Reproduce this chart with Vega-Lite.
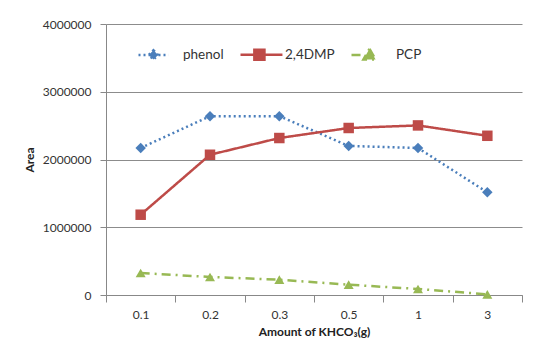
{
  "$schema": "https://vega.github.io/schema/vega-lite/v6.json",
  "width": 416,
  "height": 271,
  "autosize": {"type": "none"},
  "padding": {"left": 106, "top": 24, "right": 20, "bottom": 45},
  "background": "white",
  "config": {
    "font": "Lato",
    "view": {"stroke": null},
    "axis": {"labelFont": "Lato", "titleFont": "Lato", "labelColor": "#333333", "titleColor": "#222222", "domainColor": "#888888", "tickColor": "#888888", "gridColor": "#8c8c8c"}
  },
  "data": {
    "values": [
      {"amount": "0.1", "series": "phenol", "area": 2170000},
      {"amount": "0.2", "series": "phenol", "area": 2640000},
      {"amount": "0.3", "series": "phenol", "area": 2640000},
      {"amount": "0.5", "series": "phenol", "area": 2200000},
      {"amount": "1", "series": "phenol", "area": 2170000},
      {"amount": "3", "series": "phenol", "area": 1515000},
      {"amount": "0.1", "series": "2,4DMP", "area": 1185000},
      {"amount": "0.2", "series": "2,4DMP", "area": 2070000},
      {"amount": "0.3", "series": "2,4DMP", "area": 2317000},
      {"amount": "0.5", "series": "2,4DMP", "area": 2465000},
      {"amount": "1", "series": "2,4DMP", "area": 2503000},
      {"amount": "3", "series": "2,4DMP", "area": 2350000},
      {"amount": "0.1", "series": "PCP", "area": 325000},
      {"amount": "0.2", "series": "PCP", "area": 266000},
      {"amount": "0.3", "series": "PCP", "area": 226000},
      {"amount": "0.5", "series": "PCP", "area": 152000},
      {"amount": "1", "series": "PCP", "area": 89000},
      {"amount": "3", "series": "PCP", "area": 10000}
    ]
  },
  "encoding": {
    "x": {
      "field": "amount", "type": "ordinal", "sort": null,
      "scale": {"paddingInner": 0, "paddingOuter": 0},
      "axis": {"title": "Amount of KHCO₃(g)", "labelAngle": 0, "tickBand": "extent", "tickSize": 7, "labelPadding": 7, "labelFontSize": 12, "titleFontSize": 12, "titleFontWeight": "bold", "titlePadding": 6, "grid": false, "domainColor": "#888888"}
    },
    "y": {
      "field": "area", "type": "quantitative",
      "scale": {"domain": [0, 4000000], "nice": false},
      "axis": {"title": "Area", "values": [0, 1000000, 2000000, 3000000, 4000000], "format": "d", "tickSize": 6, "labelPadding": 9, "labelFontSize": 12, "titleFontSize": 12, "titleFontWeight": "bold", "titlePadding": 6, "grid": true}
    }
  },
  "layer": [
    {
      "mark": {"type": "line", "strokeWidth": 2.5},
      "encoding": {
        "strokeDash": {
          "field": "series", "type": "nominal",
          "scale": {"domain": ["phenol", "2,4DMP", "PCP"], "range": [[2, 3], [1, 0], [9, 5, 2, 5]]},
          "legend": null
        },
        "color": {
          "field": "series", "type": "nominal",
          "scale": {"domain": ["phenol", "2,4DMP", "PCP"], "range": ["#4A7EBB", "#BE4B48", "#98B954"]},
          "legend": {
            "title": null,
            "orient": "none",
            "legendX": 31,
            "legendY": 11,
            "direction": "horizontal",
            "symbolSize": 1296,
            "symbolStrokeWidth": 2.5,
            "labelFontSize": 13.5,
            "labelColor": "#333333",
            "labelOffset": 7,
            "columnPadding": 11,
            "encode": {
              "symbols": {
                "update": {
                  "shape": {"signal": "datum.value === 'phenol' ? 'M-1,0H0.67M-0.17,-0.26L0.09,0L-0.17,0.26L-0.43,0Z' : datum.value === '2,4DMP' ? 'M-1,0H1.33M-0.23,-0.28H0.33V0.28H-0.23Z' : 'M-1,0H-0.3M0,-0.34L0.34,0.26H-0.34Z'"},
                  "size": {"value": 1296},
                  "strokeWidth": {"value": 2.5},
                  "opacity": {"value": 1},
                  "strokeOpacity": {"value": 1},
                  "fillOpacity": {"value": 1},
                  "strokeDash": {"signal": "datum.value === 'phenol' ? [2,3] : [1,0]"},
                  "fill": {"signal": "datum.value === 'phenol' ? '#4A7EBB' : datum.value === '2,4DMP' ? '#BE4B48' : '#98B954'"},
                  "stroke": {"signal": "datum.value === 'phenol' ? '#4A7EBB' : datum.value === '2,4DMP' ? '#BE4B48' : '#98B954'"}
                }
              }
            }
          }
        }
      }
    },
    {
      "transform": [{"filter": "datum.series === 'phenol'"}],
      "mark": {"type": "point", "filled": true, "opacity": 1, "shape": "diamond", "size": 110, "color": "#4A7EBB"},
      "encoding": {}
    },
    {
      "transform": [{"filter": "datum.series === '2,4DMP'"}],
      "mark": {"type": "point", "filled": true, "opacity": 1, "shape": "square", "size": 110, "color": "#BE4B48"},
      "encoding": {}
    },
    {
      "transform": [{"filter": "datum.series === 'PCP'"}],
      "mark": {"type": "point", "filled": true, "opacity": 1, "shape": "triangle-up", "size": 100, "color": "#98B954"},
      "encoding": {}
    }
  ]
}
